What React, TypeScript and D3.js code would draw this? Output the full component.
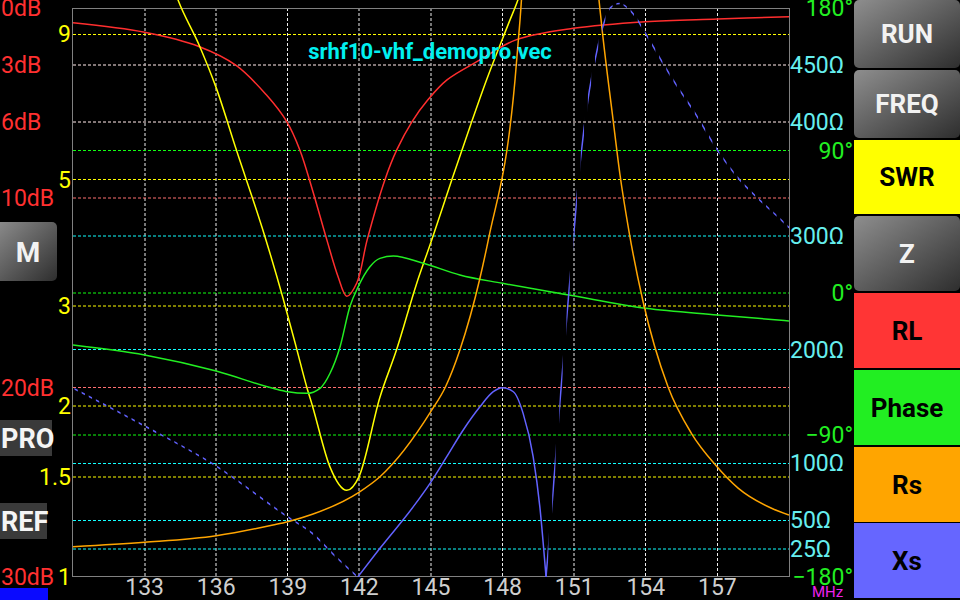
import React from "react";
import * as d3 from "d3";

// ---------- data ----------
const FREQ_TICKS = [133, 136, 139, 142, 145, 148, 151, 154, 157];
const SWR_TICKS = [9, 5, 3, 2, 1.5, 1];
const SWR_LABELS = ["9", "5", "3", "2", "1.5", "1"];
const RL_TICKS = [0, 3, 6, 10, 20, 30];
const PHASE_TICKS = [180, 90, 0, -90, -180];
const OHM_TICKS = [450, 400, 300, 200, 100, 50, 25];
const TITLE = "srhf10-vhf_demopro.vec";
const RIGHT_BUTTONS = ["RUN", "FREQ", "SWR", "Z", "RL", "Phase", "Rs", "Xs"];
const LEFT_BUTTONS = ["M", "PRO", "REF"];

// RL (dB) vs MHz
const rlData: [number, number][] = [
  [130.0, 0.78], [133.0, 1.28], [135.3, 2.04], [136.85, 3.04], [138.1, 4.58],
  [138.95, 5.98], [139.5, 7.47], [140.03, 9.58], [140.63, 12.2], [141.1, 14.14],
  [141.47, 15.2], [141.89, 14.5], [142.33, 12.2], [143.07, 9.05], [143.57, 7.47],
  [144.2, 6.0], [144.87, 4.84], [145.67, 3.79], [147.05, 2.74], [148.56, 1.68],
  [150.96, 1.07], [153.98, 0.72], [157.0, 0.58], [160.0, 0.46],
];
// SWR vs MHz
const swrData: [number, number][] = [
  [134.0, 11.5], [134.4, 10.33], [135.31, 8.56], [135.99, 7.26], [136.84, 5.64],
  [138.03, 3.98], [138.8, 3.09], [139.38, 2.51], [139.79, 2.16], [140.03, 2.0],
  [140.77, 1.56], [141.47, 1.42], [141.98, 1.5], [142.86, 2.07], [143.56, 2.51],
  [144.4, 3.28], [145.03, 3.91], [145.88, 5.0], [146.63, 6.18], [147.33, 7.48],
  [148.31, 9.53], [148.64, 10.33], [149.0, 11.6],
];
// Phase (deg) vs MHz
const phaseData: [number, number][] = [
  [130.0, -33.2], [133.0, -39.5], [136.0, -49.7], [138.38, -60.6], [139.0, -62.8],
  [139.79, -63.8], [140.35, -60.6], [140.77, -51.1], [141.19, -34.3], [141.6, -9],
  [141.95, 3.7], [142.44, 16.3], [142.86, 21.6], [143.42, 23.1], [144.68, 18.5],
  [146.21, 11.1], [148.0, 5.8], [150.78, -1.6], [154.0, -10], [157.0, -14.2],
  [160.0, -18],
];
// Rs (ohm) vs MHz
const rsData: [number, number][] = [
  [130.0, 26.6], [133.0, 30.5], [136.0, 36.3], [138.38, 45.7], [139.0, 48.6],
  [140.03, 55.1], [141.98, 74.4], [142.86, 88.1], [144.99, 145.3], [145.61, 167.2],
  [146.21, 199.5], [147.05, 262.5], [147.4, 296.1], [148.52, 436.7], [148.73, 489.5],
  [149.3, 680], [150.0, 860], [150.6, 880], [151.3, 720], [151.8, 560],
  [152.15, 485], [152.63, 401.6], [152.91, 354.8], [153.31, 302], [153.87, 243.4],
  [154.93, 167.2], [155.91, 126.3], [156.92, 98.4], [157.88, 77.9], [159.27, 60.4],
  [160.0, 54.5],
];
// Xs (ohm, signed) vs MHz
const xsData: [number, number][] = [
  [130.0, -166], [133.0, -132.7], [136.0, -97.5], [138.98, -53], [140.03, -38.4],
  [141.0, -18], [141.93, 0], [142.86, 25.2], [144.26, 61.8], [144.96, 82.3],
  [145.66, 105.7], [146.35, 129.2], [147.05, 149.6], [147.61, 162.8], [147.99, 166.3],
  [148.45, 162.8], [148.86, 143.8], [149.28, 105.7], [149.56, 61.8], [149.82, 0],
  [150.08, -66], [150.37, -145], [150.68, -226], [150.99, -303], [151.27, -368],
  [151.58, -420], [151.9, -457], [152.22, -485], [152.5, -500], [152.9, -504],
  [153.47, -495], [153.98, -478], [154.59, -456], [155.29, -432], [155.99, -410],
  [157.1, -372], [157.93, -349], [158.78, -331], [159.76, -312], [160.0, -307],
];

// ---------- layout / style ----------
const W = 960, H = 600;
const PL = 73, PR = 789, PT = 8, PB = 577;
const FONT = "Roboto, 'Noto Sans', sans-serif";
const DIM_FREQ = new Set([133, 136, 142, 145, 151]);
const C = {
  rl: "#ff2e2e", rlGrid: "#ff7070", swr: "#ffff00", ph: "#22ee22", phGrid: "#11ff11",
  rs: "#ffa500", xs: "#6262ff", ohm: "#11ffff", ohmText: "#66eeee", vgrid: "#eeeeee",
};
const BTN = [
  { y0: 0, y1: 68, fill: "grad", tc: "#f2f2f2" },
  { y0: 70, y1: 138, fill: "grad", tc: "#f2f2f2" },
  { y0: 140, y1: 214, fill: "#ffff00", tc: "#000" },
  { y0: 216, y1: 291, fill: "grad", tc: "#f2f2f2" },
  { y0: 293, y1: 368, fill: "#ff3535", tc: "#000" },
  { y0: 370, y1: 445, fill: "#22ee22", tc: "#000" },
  { y0: 447, y1: 522, fill: "#ffa500", tc: "#000" },
  { y0: 523, y1: 598, fill: "#6666ff", tc: "#000" },
];

function hy(y: number) {
  const f = y - Math.floor(y);
  return f < 0.45 ? Math.floor(y) + 0.5 : Math.floor(y) + 1;
}

export default function App() {
  const x = d3.scaleLinear().domain([130, 160]).range([PL, PR]);
  const ySwr = d3.scaleLog().domain([1, 10]).range([PB, PT]);
  const yRl = d3.scaleLinear().domain([0, 30]).range([PT, PB]);
  const yPh = d3.scaleLinear().domain([-180, 180]).range([PB, PT]);
  const yOhm = d3.scaleLinear().domain([0, 500]).range([PB, PT]);

  const mk = (ys: (v: number) => number, curve: d3.CurveFactory = d3.curveMonotoneX) =>
    d3.line<[number, number]>().x((d) => x(d[0])).y((d) => ys(d[1])).curve(curve);

  const xsPos = d3
    .line<[number, number]>()
    .defined((d) => d[1] >= 0)
    .x((d) => x(d[0]))
    .y((d) => yOhm(Math.abs(d[1])))
    .curve(d3.curveMonotoneX)(xsData) as string;
  const xsNeg = d3
    .line<[number, number]>()
    .defined((d) => d[1] <= 0)
    .x((d) => x(d[0]))
    .y((d) => yOhm(Math.abs(d[1])))
    .curve(d3.curveMonotoneX)(xsData) as string;

  const stripes = d3.range(0, 101).map((k) => 74.5 + k * 7.13);

  const hGrid: { y: number; c: string; k: string }[] = [];
  OHM_TICKS.forEach((v) => hGrid.push({ y: yOhm(v), c: C.ohm, k: "o" + v }));
  PHASE_TICKS.filter((v) => Math.abs(v) < 180).forEach((v) => hGrid.push({ y: yPh(v), c: C.phGrid, k: "p" + v }));
  RL_TICKS.filter((v) => v > 0 && v < 30).forEach((v) => hGrid.push({ y: yRl(v), c: C.rlGrid, k: "r" + v }));
  SWR_TICKS.filter((v) => v > 1).forEach((v) => hGrid.push({ y: ySwr(v), c: C.swr, k: "s" + v }));

  const labelStyle = { fontFamily: FONT, fontSize: 23 } as const;

  return (
    <svg width={W} height={H} style={{ position: "absolute", left: 0, top: 0, display: "block" }}>
      <defs>
        <linearGradient id="gbtn" x1="0" y1="0" x2="1" y2="1">
          <stop offset="0%" stopColor="#8e8e8e" />
          <stop offset="100%" stopColor="#2e2e2e" />
        </linearGradient>
        <clipPath id="plotClip">
          <rect x={PL} y={0} width={PR - PL} height={PB} />
        </clipPath>
        <clipPath id="stripeClip">
          {stripes.map((s, i) => (
            <rect key={i} x={s} y={0} width={3.3} height={H} />
          ))}
        </clipPath>
      </defs>
      <rect x={0} y={0} width={W} height={H} fill="#000" />

      {/* vertical grid */}
      {FREQ_TICKS.map((f) => {
        const dim = DIM_FREQ.has(f);
        const xx = dim ? Math.round(x(f)) : Math.floor(x(f)) + 0.5;
        return (
          <line key={"v" + f} x1={xx} x2={xx} y1={PT} y2={PB} stroke={C.vgrid} strokeWidth={1} strokeDasharray="3 2" />
        );
      })}
      {/* horizontal grid */}
      {hGrid.map((g) => (
        <line key={g.k} x1={PL} x2={PR} y1={hy(g.y)} y2={hy(g.y)} stroke={g.c} strokeWidth={1} strokeDasharray="3 2" />
      ))}

      {/* frame */}
      <rect x={72.5} y={8.5} width={717} height={568} fill="none" stroke="#808080" strokeWidth={1} />

      {/* curves */}
      <g clipPath="url(#plotClip)" fill="none" strokeWidth={1.5}>
        <path d={mk(yRl, d3.curveCatmullRom.alpha(0.5))(rlData) as string} stroke={C.rl} />
        <path d={mk(ySwr)(swrData) as string} stroke={C.swr} />
        <path d={mk(yPh)(phaseData) as string} stroke={C.ph} />
        <path d={mk(yOhm)(rsData) as string} stroke={C.rs} />
        <path d={xsPos} stroke={C.xs} />
        <g clipPath="url(#stripeClip)">
          <path d={xsNeg} stroke={C.xs} />
        </g>
      </g>

      {/* title */}
      <text x={430} y={59} textAnchor="middle" fill="#00f0f0" fontFamily={FONT} fontSize={22} fontWeight="bold">
        {TITLE}
      </text>

      {/* left labels */}
      {RL_TICKS.map((v) => (
        <text key={"rl" + v} x={1} y={yRl(v)} dy="0.36em" fill="#ff3030" {...labelStyle}>
          {v + "dB"}
        </text>
      ))}
      {SWR_TICKS.map((v, i) => (
        <text key={"sw" + v} x={71} y={ySwr(v)} dy="0.36em" textAnchor="end" fill="#ffff00" {...labelStyle}>
          {SWR_LABELS[i]}
        </text>
      ))}
      {/* right labels */}
      {OHM_TICKS.map((v) => (
        <text key={"oh" + v} x={790} y={yOhm(v)} dy="0.36em" fill={C.ohmText} {...labelStyle}>
          {v + "Ω"}
        </text>
      ))}
      {PHASE_TICKS.map((v) => (
        <text key={"ph" + v} x={853} y={yPh(v)} dy="0.36em" textAnchor="end" fill={C.ph} {...labelStyle}>
          {(v < 0 ? "−" + Math.abs(v) : String(v)) + "°"}
        </text>
      ))}
      {/* x labels */}
      {FREQ_TICKS.map((f) => (
        <text key={"xl" + f} x={x(f)} y={595} textAnchor="middle" fill="#cfcfcf" {...labelStyle}>
          {f}
        </text>
      ))}
      <text x={812} y={597} fill="#ee22ee" fontFamily={FONT} fontSize={15}>
        MHz
      </text>

      {/* right buttons */}
      {RIGHT_BUTTONS.map((b, i) => {
        const s = BTN[i];
        const grad = s.fill === "grad";
        return (
          <g key={b}>
            <rect
              x={854}
              y={s.y0}
              width={106}
              height={s.y1 - s.y0}
              rx={grad ? 5 : 0}
              fill={grad ? "url(#gbtn)" : s.fill}
            />
            <text
              x={907}
              y={(s.y0 + s.y1) / 2}
              dy="0.36em"
              textAnchor="middle"
              fill={s.tc}
              fontFamily={FONT}
              fontSize={26}
              fontWeight="bold"
            >
              {b}
            </text>
          </g>
        );
      })}

      {/* left buttons */}
      <rect x={-6} y={222} width={63} height={59} rx={5} fill="url(#gbtn)" />
      <text x={28} y={252} dy="0.36em" textAnchor="middle" fill="#f2f2f2" fontFamily={FONT} fontSize={28} fontWeight="bold">
        {LEFT_BUTTONS[0]}
      </text>
      <rect x={0} y={420} width={52} height={36} fill="#3a3a3a" />
      <text x={1} y={438} dy="0.36em" fill="#f5f5f5" fontFamily={FONT} fontSize={27} fontWeight="bold">
        {LEFT_BUTTONS[1]}
      </text>
      <rect x={0} y={503} width={47} height={36} fill="#3a3a3a" />
      <text x={1} y={521} dy="0.36em" fill="#f5f5f5" fontFamily={FONT} fontSize={27} fontWeight="bold">
        {LEFT_BUTTONS[2]}
      </text>
      <rect x={0} y={588} width={48} height={12} fill="#0a0aff" />
    </svg>
  );
}
